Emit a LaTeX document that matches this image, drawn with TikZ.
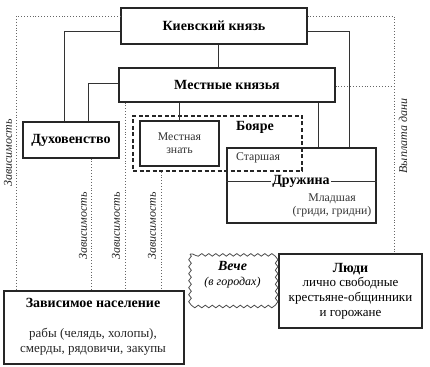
\documentclass[tikz,border=0pt]{standalone}
\usepackage{fontspec}
\setmainfont{Liberation Serif}
\usetikzlibrary{decorations.pathmorphing}
\begin{document}
\begin{tikzpicture}[x=1pt,y=-1pt,
  box/.style={draw=black!85, line width=1.1pt, fill=white, inner sep=0pt},
  title/.style={font=\fontsize{14}{16}\selectfont\bfseries},
  txt/.style={font=\fontsize{13}{15}\selectfont, align=center},
  small/.style={font=\fontsize{11.8}{13.2}\selectfont, align=center, text=black!80},
  link/.style={draw=black!80, line width=1pt},
  dep/.style={draw=black!60, line width=0.9pt, dotted},
  deplabel/.style={font=\fontsize{12}{13}\selectfont\itshape, rotate=90, text=black!85}
]
\useasboundingbox (0,0) rectangle (430,366);
% boxes
\node[box, minimum width=186pt, minimum height=36pt] (kiev) at (214,26) {};
\node[title] (kievt) at (kiev.center) {Киевский князь};
\node[box, minimum width=216pt, minimum height=34pt] (mest) at (227,85) {};
\node[title] (mestt) at (mest.center) {Местные князья};
\node[box, minimum width=96pt, minimum height=36pt] (duh) at (71,140) {};
\node[title] (duht) at (duh.center) {Духовенство};
\node[box, minimum width=79pt, minimum height=45pt] (znat) at (179.5,143.5) {};
\node[small] (znatt) at (znat.center) {Местная\\знать};
\node[draw=black!85, line width=1.1pt, minimum width=149pt, minimum height=75pt, inner sep=0pt] (druzh) at (301.5,185.5) {};
\node[draw=black!85, line width=1.3pt, dashed, dash pattern=on 4pt off 2.5pt, minimum width=169pt, minimum height=55pt, inner sep=0pt] (boy) at (217.5,143.5) {};
\node[title] (boyt) at (255,127) {Бояре};
\node[small] (starsh) at (258,158) {Старшая};
\coordinate (dl) at (druzh.west |- 0,181);
\coordinate (dr) at (druzh.east |- 0,181);
\draw[link] (dl) -- (dr);
\node[title, fill=white, inner sep=1.5pt] (druzht) at (301,181) {Дружина};
\node[small] (mlad) at (332,205) {Младшая\\(гриди, гридни)};
\node[box, minimum width=180pt, minimum height=73pt] (zav) at (94,327.5) {};
\node[title] (zavt) at (93,303) {Зависимое население};
\node[txt, text=black!85] (zavtx) at (93,341.5) {рабы (челядь, холопы),\\смерды, рядовичи, закупы};
\node[box, minimum width=143pt, minimum height=74pt] (ludi) at (350.5,291) {};
\node[txt] (ludit) at (ludi.center) {\bfseries\fontsize{14}{16}\selectfont Люди\\[-1pt]лично свободные\\крестьяне-общинники\\и горожане};
\draw[draw=black!70, line width=0.8pt, decorate, decoration={snake, amplitude=1.3pt, segment length=7pt}]
  (190,254) rectangle (275,302);
\node[font=\fontsize{14}{16}\selectfont\bfseries\itshape] (veche) at (232.5,266) {Вече};
\node[font=\fontsize{12}{14}\selectfont\itshape] (vechet) at (232.5,283) {(в городах)};
% solid links
\draw[link] ([yshift=-6pt]kiev.west) -| ([xshift=-7pt]duh.north);
\draw[link] ([yshift=1pt]mest.west) -| ([xshift=17pt]duh.north);
\draw[link] ([xshift=4pt]kiev.south) -- ([xshift=4pt]kiev.south |- mest.north);
\draw[link] (znat.north |- mest.south) -- (znat.north);
\draw[link] ([yshift=-6pt]kiev.east) -| ([xshift=47.5pt]druzh.north);
\draw[link] ([xshift=16.5pt]druzh.north |- mest.south) -- ([xshift=16.5pt]druzh.north);
% dotted dependencies
\draw[dep] ([yshift=10pt]kiev.west) -| ([xshift=-78pt]zav.north);
\draw[dep] ([yshift=10pt]kiev.east) -| ([xshift=43.5pt]ludi.north);
\draw[dep] ([yshift=-1pt]mest.east) -- ([xshift=43.5pt]ludi.north |- 0,86);
\draw[dep] ([xshift=20pt]duh.south) -- ([xshift=20pt]duh.south |- zav.north);
\draw[dep] ([xshift=-102pt]mest.south) -- ([xshift=-102pt]mest.south |- zav.north);
\draw[dep] ([xshift=-56.5pt]boy.south) -- ([xshift=-56.5pt]boy.south |- zav.north);
% labels
\node[deplabel] (l1) at (8,153) {Зависимость};
\node[deplabel] (l2) at (83,226) {Зависимость};
\node[deplabel] (l3) at (116,226) {Зависимость};
\node[deplabel] (l4) at (152,226) {Зависимость};
\node[deplabel] (l5) at (403,136) {Выплата дани};
\end{tikzpicture}
\end{document}
